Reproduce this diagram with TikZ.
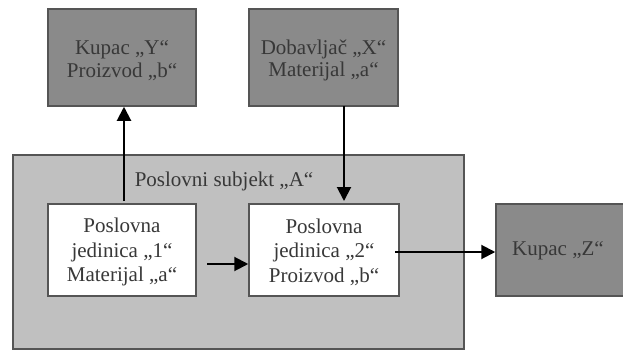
\documentclass[tikz,border=0pt]{standalone}
\usepackage{fontspec}
\setmainfont{Liberation Serif}
\usetikzlibrary{arrows.meta}
\definecolor{darkbox}{HTML}{8A8A8A}
\definecolor{bigbox}{HTML}{C0C0C0}
\definecolor{edge}{HTML}{555555}
\definecolor{txt}{HTML}{383838}
\begin{document}
\begin{tikzpicture}[x=1pt,y=-1pt,
  darkstyle/.style={draw=edge,line width=1.5pt,fill=darkbox,inner sep=0pt},
  whitestyle/.style={draw=edge,line width=1.5pt,fill=white,inner sep=0pt},
  bigstyle/.style={draw=edge,line width=1.5pt,fill=bigbox,inner sep=0pt},
  txtstyle/.style={text=txt,font=\fontsize{21}{22.5}\selectfont,align=center,inner sep=0pt},
  txtinner/.style={text=txt,font=\fontsize{21}{24.5}\selectfont,align=center,inner sep=0pt},
  arr/.style={draw=black,line width=2pt,-{Triangle[length=14pt,width=14pt]}}]
\useasboundingbox (0,0) rectangle (623,350);
\begin{scope}
\clip (0,0) rectangle (623,350);
% big box
\node[bigstyle,minimum width=451pt,minimum height=194pt] (big) at (238.5,252) {};
\node[txtstyle] (biglabel) at (224,181) {Poslovni subjekt „A“};
% top boxes
\node[darkstyle,minimum width=148pt,minimum height=97pt] (Y) at (122,57.5) {};
\node[txtstyle] (Ytext) at (122,60.5) {Kupac „Y“\\Proizvod „b“};
\node[darkstyle,minimum width=149pt,minimum height=97pt] (X) at (323.5,57.5) {};
\node[txtstyle] (Xtext) at (323.5,60.5) {Dobavljač „X“\\Materijal „a“};
% inner boxes
\node[whitestyle,minimum width=148pt,minimum height=92pt] (b1) at (122,250) {};
\node[txtinner] (b1text) at (122,252) {Poslovna\\jedinica „1“\\Materijal „a“};
\node[whitestyle,minimum width=150pt,minimum height=92pt] (b2) at (324,250) {};
\node[txtinner] (b2text) at (324,252) {Poslovna\\jedinica „2“\\Proizvod „b“};
% Z box
\node[darkstyle,minimum width=134pt,minimum height=92pt] (Z) at (563,250) {};
\node[txtstyle] (Ztext) at (558,251) {Kupac „Z“};
\end{scope}
% connectors
\coordinate (ys) at (124,201);
\coordinate (xs) at (344,106);
\coordinate (xe) at (344,201);
\coordinate (s12) at (207,264);
\coordinate (s2z) at (395,252);
\draw[arr] (ys) -- (ys |- Y.south);
\draw[arr] (xs) -- (xe);
\draw[arr] (s12) -- (s12 -| b2.west);
\draw[arr] (s2z) -- (s2z -| Z.west);
\end{tikzpicture}
\end{document}
